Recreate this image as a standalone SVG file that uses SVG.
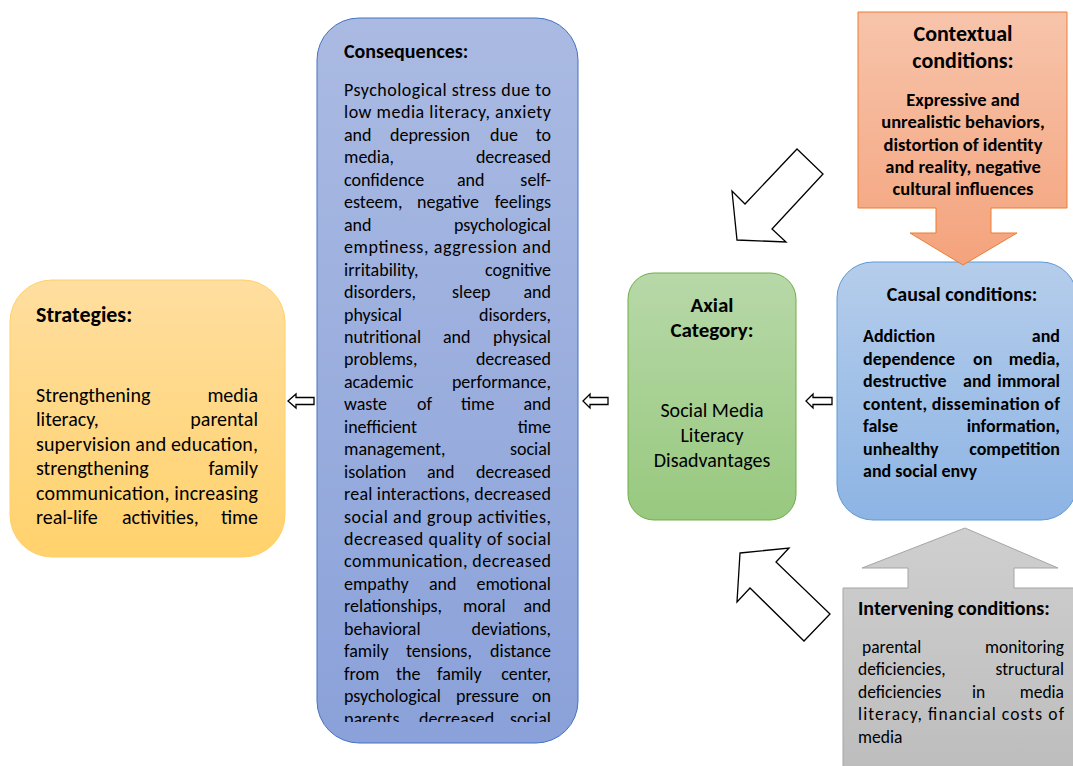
<svg xmlns="http://www.w3.org/2000/svg" width="1073" height="766" viewBox="0 0 1073 766">
<style>
text{font-family:Carlito,Lato,"Liberation Sans",sans-serif;fill:#000}
.cb{font-size:18px}
.sb{font-size:20px}
.kb{font-size:18px;font-weight:bold}
.xb{font-size:18.5px;font-weight:bold}
.ib{font-size:17.5px}
.ab{font-size:20px}
.t20{font-size:20px;font-weight:bold}
.t22{font-size:22px;font-weight:bold}
.t21{font-size:21px;font-weight:bold}
.e{text-anchor:end}
.m{text-anchor:middle}
.arr{fill:#fff;stroke:#000;stroke-width:1.3;stroke-linejoin:miter}
</style>
<defs>
<linearGradient id="gStrat" x1="0" y1="0" x2="0" y2="1"><stop offset="0" stop-color="#FFDE9F"/><stop offset="1" stop-color="#FFD26C"/></linearGradient>
<linearGradient id="gCons" x1="0" y1="0" x2="0" y2="1"><stop offset="0" stop-color="#AABAE2"/><stop offset="1" stop-color="#8AA1D9"/></linearGradient>
<linearGradient id="gAx" x1="0" y1="0" x2="0" y2="1"><stop offset="0" stop-color="#B7D8A8"/><stop offset="1" stop-color="#98C97F"/></linearGradient>
<linearGradient id="gCau" x1="0" y1="0" x2="0" y2="1"><stop offset="0" stop-color="#B5CDEB"/><stop offset="1" stop-color="#8DB4E4"/></linearGradient>
<linearGradient id="gCtx" x1="0" y1="0" x2="0" y2="1"><stop offset="0" stop-color="#F7C4AB"/><stop offset="1" stop-color="#F4A37C"/></linearGradient>
<linearGradient id="gInt" x1="0" y1="0" x2="0" y2="1"><stop offset="0" stop-color="#CFCFCF"/><stop offset="1" stop-color="#BDBDBD"/></linearGradient>
<clipPath id="cCons"><rect x="317" y="18" width="262" height="704"/></clipPath>
</defs>

<g id="strategies">
<rect x="10" y="280" width="275" height="277" rx="42" fill="url(#gStrat)" stroke="#FFD06A" stroke-width="1"/>
<text class="t22" x="36" y="322">Strategies:</text>
<g class="sb">
<text x="36" y="401.5">Strengthening</text><text class="e" x="258" y="401.5">media</text>
<text x="36" y="426">literacy,</text><text class="e" x="258" y="426">parental</text>
<text x="36" y="450.5" textLength="222" lengthAdjust="spacing">supervision and education,</text>
<text x="36" y="475">strengthening</text><text class="e" x="258" y="475">family</text>
<text x="36" y="499.5" textLength="222" lengthAdjust="spacing">communication, increasing</text>
<text x="36" y="524">real-life</text><text x="122" y="524">activities,</text><text class="e" x="258" y="524">time</text>
</g>
</g>

<g id="consequences">
<rect x="317" y="18" width="261" height="725" rx="42" fill="url(#gCons)" stroke="#4472C4" stroke-width="1"/>
<text class="t20" x="344" y="58">Consequences:</text>
<g class="cb" clip-path="url(#cCons)">
<text x="344" y="96" textLength="207" lengthAdjust="spacing">Psychological stress due to</text>
<text x="344" y="118.45" textLength="207" lengthAdjust="spacing">low media literacy, anxiety</text>
<text x="344" y="140.9">and</text><text x="390" y="140.9">depression</text><text x="490" y="140.9">due</text><text class="e" x="551" y="140.9">to</text>
<text x="344" y="163.35">media,</text><text class="e" x="551" y="163.35">decreased</text>
<text x="344" y="185.8">confidence</text><text x="457" y="185.8">and</text><text class="e" x="551" y="185.8">self-</text>
<text x="344" y="208.25">esteem,</text><text x="417" y="208.25">negative</text><text class="e" x="551" y="208.25">feelings</text>
<text x="344" y="230.7">and</text><text class="e" x="551" y="230.7">psychological</text>
<text x="344" y="253.15" textLength="207" lengthAdjust="spacing">emptiness, aggression and</text>
<text x="344" y="275.6">irritability,</text><text class="e" x="551" y="275.6">cognitive</text>
<text x="344" y="298.05">disorders,</text><text x="452" y="298.05">sleep</text><text class="e" x="551" y="298.05">and</text>
<text x="344" y="320.5">physical</text><text class="e" x="551" y="320.5">disorders,</text>
<text x="344" y="342.95">nutritional</text><text x="443" y="342.95">and</text><text class="e" x="551" y="342.95">physical</text>
<text x="344" y="365.4">problems,</text><text class="e" x="551" y="365.4">decreased</text>
<text x="344" y="387.85">academic</text><text class="e" x="551" y="387.85">performance,</text>
<text x="344" y="410.3">waste</text><text x="417" y="410.3">of</text><text x="461" y="410.3">time</text><text class="e" x="551" y="410.3">and</text>
<text x="344" y="432.75">inefficient</text><text class="e" x="551" y="432.75">time</text>
<text x="344" y="455.2">management,</text><text class="e" x="551" y="455.2">social</text>
<text x="344" y="477.65">isolation</text><text x="427" y="477.65">and</text><text class="e" x="551" y="477.65">decreased</text>
<text x="344" y="500.1" textLength="207" lengthAdjust="spacing">real interactions, decreased</text>
<text x="344" y="522.55" textLength="207" lengthAdjust="spacing">social and group activities,</text>
<text x="344" y="545" textLength="207" lengthAdjust="spacing">decreased quality of social</text>
<text x="344" y="567.45" textLength="207" lengthAdjust="spacing">communication, decreased</text>
<text x="344" y="589.9">empathy</text><text x="429" y="589.9">and</text><text class="e" x="551" y="589.9">emotional</text>
<text x="344" y="612.35">relationships,</text><text x="463" y="612.35">moral</text><text class="e" x="551" y="612.35">and</text>
<text x="344" y="634.8">behavioral</text><text class="e" x="551" y="634.8">deviations,</text>
<text x="344" y="657.25">family</text><text x="406" y="657.25">tensions,</text><text class="e" x="551" y="657.25">distance</text>
<text x="344" y="679.7">from</text><text x="396" y="679.7">the</text><text x="437" y="679.7">family</text><text class="e" x="551" y="679.7">center,</text>
<text x="344" y="702.15">psychological</text><text x="456" y="702.15">pressure</text><text class="e" x="551" y="702.15">on</text>
<text x="344" y="724.6">parents,</text><text x="419" y="724.6">decreased</text><text class="e" x="551" y="724.6">social</text>
</g>
</g>

<g id="axial">
<rect x="628" y="273" width="168" height="247" rx="26" fill="url(#gAx)" stroke="#70AD47" stroke-width="1"/>
<text class="t21 m" x="712" y="312">Axial</text>
<text class="t21 m" x="712" y="337">Category:</text>
<text class="ab m" x="712" y="417">Social Media</text>
<text class="ab m" x="712" y="442">Literacy</text>
<text class="ab m" x="712" y="467">Disadvantages</text>
</g>

<g id="causal">
<rect x="837" y="262" width="240" height="258" rx="36" fill="url(#gCau)" stroke="#5B9BD5" stroke-width="1"/>
<text class="t20 m" x="962" y="301">Causal conditions:</text>
<g class="kb">
<text x="863" y="342">Addiction</text><text class="e" x="1060" y="342">and</text>
<text x="863" y="364.5">dependence</text><text x="973" y="364.5">on</text><text class="e" x="1060" y="364.5">media,</text>
<text x="863" y="387">destructive</text><text x="963" y="387">and</text><text class="e" x="1060" y="387">immoral</text>
<text x="863" y="409.5" textLength="197" lengthAdjust="spacing">content, dissemination of</text>
<text x="863" y="432">false</text><text class="e" x="1060" y="432">information,</text>
<text x="863" y="454.5">unhealthy</text><text class="e" x="1060" y="454.5">competition</text>
<text x="863" y="477">and social envy</text>
</g>
</g>

<g id="contextual">
<path d="M858,12 H1067 V208 H991 V233 H1017 L963,265 L910,233 H936 V208 H858 Z" fill="url(#gCtx)" stroke="#ED7D31" stroke-width="1"/>
<text class="t22 m" x="963" y="41">Contextual</text>
<text class="t22 m" x="963" y="68">conditions:</text>
<g class="xb">
<text class="m" x="963" y="106">Expressive and</text>
<text class="m" x="963" y="128">unrealistic behaviors,</text>
<text class="m" x="963" y="150.5">distortion of identity</text>
<text class="m" x="963" y="172.5">and reality, negative</text>
<text class="m" x="963" y="195">cultural influences</text>
</g>
</g>

<g id="intervening">
<path d="M843,770 V588 H908 V568 H862 L965,528 L1058,568 H1014 V588 H1080 V770 Z" fill="url(#gInt)" stroke="#A5A5A5" stroke-width="1"/>
<text class="t20" x="858" y="615">Intervening conditions:</text>
<g class="ib">
<text x="862" y="652.5">parental</text><text class="e" x="1064" y="652.5">monitoring</text>
<text x="858" y="675">deficiencies,</text><text class="e" x="1064" y="675">structural</text>
<text x="858" y="697.5">deficiencies</text><text x="972" y="697.5">in</text><text class="e" x="1064" y="697.5">media</text>
<text x="858" y="720" textLength="206" lengthAdjust="spacing">literacy, financial costs of</text>
<text x="858" y="742.5">media</text>
</g>
</g>

<g id="connectors">
<polygon class="arr" points="797,149 823,174 772,229 786,242 737,240 732,191 745,204"/>
<polygon class="arr" points="740,553 789,548 776,562 830,614 804,641 750,588 737,602"/>
<polygon class="arr" points="288,401 296,394 296,397.5 314,397.5 314,404.5 296,404.5 296,408"/>
<polygon class="arr" points="583,401 590,394 590,397.5 608,397.5 608,404.5 590,404.5 590,408"/>
<polygon class="arr" points="806,401 813,394 813,397.5 832,397.5 832,404.5 813,404.5 813,408"/>
</g>
</svg>
